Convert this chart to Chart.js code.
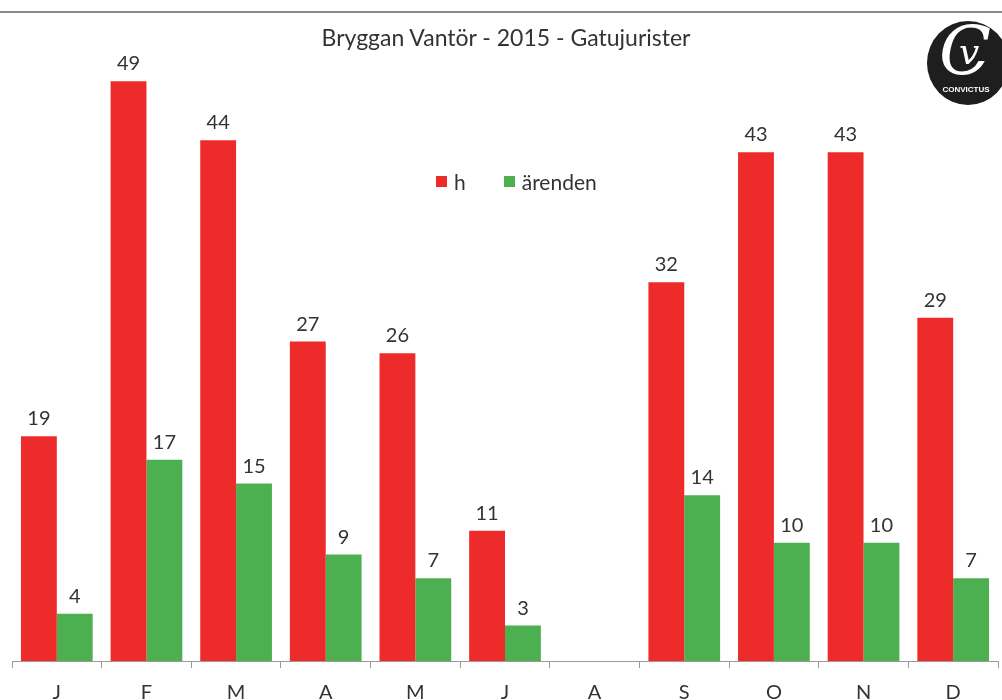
<!DOCTYPE html>
<html>
<head>
<meta charset="utf-8">
<script src="https://cdn.jsdelivr.net/npm/chart.js@4.4.1/dist/chart.umd.min.js"></script>
<style>
  html, body { margin: 0; padding: 0; background: #fff; }
  #wrap { position: relative; width: 1002px; height: 700px; overflow: hidden; font-family: Lato, "Open Sans", sans-serif; }
  #topline { position: absolute; left: 0; top: 11px; width: 1002px; height: 2px; background: #8a8a8a; }
  #title { position: absolute; left: 0; width: 1012px; top: 23px; text-align: center; font-size: 23px; color: #333; }
  #legend { position: absolute; left: 436px; top: 169px; font-size: 21px; color: #333; display: flex; align-items: center; }
  #legend span.sw { display: inline-block; width: 11px; height: 11px; margin-right: 7px; }
  #legend span.item { display: flex; align-items: center; margin-right: 38px; }
  #logo { position: absolute; left: 927px; top: 21px; width: 82px; height: 84px; border-radius: 50%; background: #1e1e1e; color: #fff; text-align: center; }
  #logo .c { position: absolute; left: 12px; top: -10px; font-family: "DejaVu Serif", serif; font-size: 68px; font-style: italic; }
  #logo .v { position: absolute; left: 32px; top: 10px; font-family: "DejaVu Serif", serif; font-size: 36px; font-style: italic; }
  #logo .t { position: absolute; left: 0; width: 78px; top: 64px; font-family: "Liberation Sans", sans-serif; font-size: 8px; font-weight: bold; }
  canvas { position: absolute; left: 0; top: 0; }
</style>
</head>
<body>
<div id="wrap">
  <canvas id="chart" width="1002" height="700"></canvas>
  <div id="topline"></div>
  <div id="title">Bryggan Vantör - 2015 - Gatujurister</div>
  <div id="legend">
    <span class="item"><span class="sw" style="background:#ee2b2b"></span>h</span>
    <span class="item"><span class="sw" style="background:#4caf50"></span>ärenden</span>
  </div>
  <div id="logo"><span class="c">C</span><span class="v">v</span><span class="t">CONVICTUS</span></div>
</div>
<script>
// ── Data ────────────────────────────────────────────────────
const months   = ["J", "F", "M", "A", "M", "J", "A", "S", "O", "N", "D"];
const hours    = [19, 49, 44, 27, 26, 11, null, 32, 43, 43, 29];
const arenden  = [4, 17, 15, 9, 7, 3, null, 14, 10, 10, 7];

const RED   = "#ee2b2b";
const GREEN = "#4caf50";

// value labels above each bar
const barLabels = {
  id: "barLabels",
  afterDatasetsDraw(chart) {
    const ctx = chart.ctx;
    ctx.save();
    ctx.font = "20px Lato, 'Open Sans', sans-serif";
    ctx.fillStyle = "#333";
    ctx.textAlign = "center";
    ctx.textBaseline = "alphabetic";
    chart.data.datasets.forEach((ds, i) => {
      chart.getDatasetMeta(i).data.forEach((bar, j) => {
        const v = ds.data[j];
        if (v == null) return;
        ctx.fillText(String(v), bar.x, bar.y - 11);
      });
    });
    ctx.restore();
  },
};

new Chart(document.getElementById("chart").getContext("2d"), {
  type: "bar",
  data: {
    labels: months,
    datasets: [
      { label: "h",       data: hours,   backgroundColor: RED,   borderWidth: 0 },
      { label: "ärenden", data: arenden, backgroundColor: GREEN, borderWidth: 0 },
    ],
  },
  options: {
    responsive: false,
    animation: false,
    layout: { padding: { top: 22, left: 12, right: 4, bottom: 0 } },
    datasets: { bar: { categoryPercentage: 0.8, barPercentage: 1.0 } },
    plugins: {
      legend: { display: false },
      title: { display: false },
      tooltip: { enabled: false },
    },
    scales: {
      x: {
        offset: true,
        afterFit(scale) { scale.height = 39; },
        border: { color: "#9a9a9a", width: 1 },
        grid: { offset: true, drawOnChartArea: false, color: "#9a9a9a", tickLength: 7 },
        ticks: { color: "#333", padding: 13, font: { size: 20, family: "Lato, 'Open Sans', sans-serif" } },
      },
      y: {
        display: false,
        min: 0,
        max: 54,
      },
    },
  },
  plugins: [barLabels],
});
</script>
</body>
</html>
